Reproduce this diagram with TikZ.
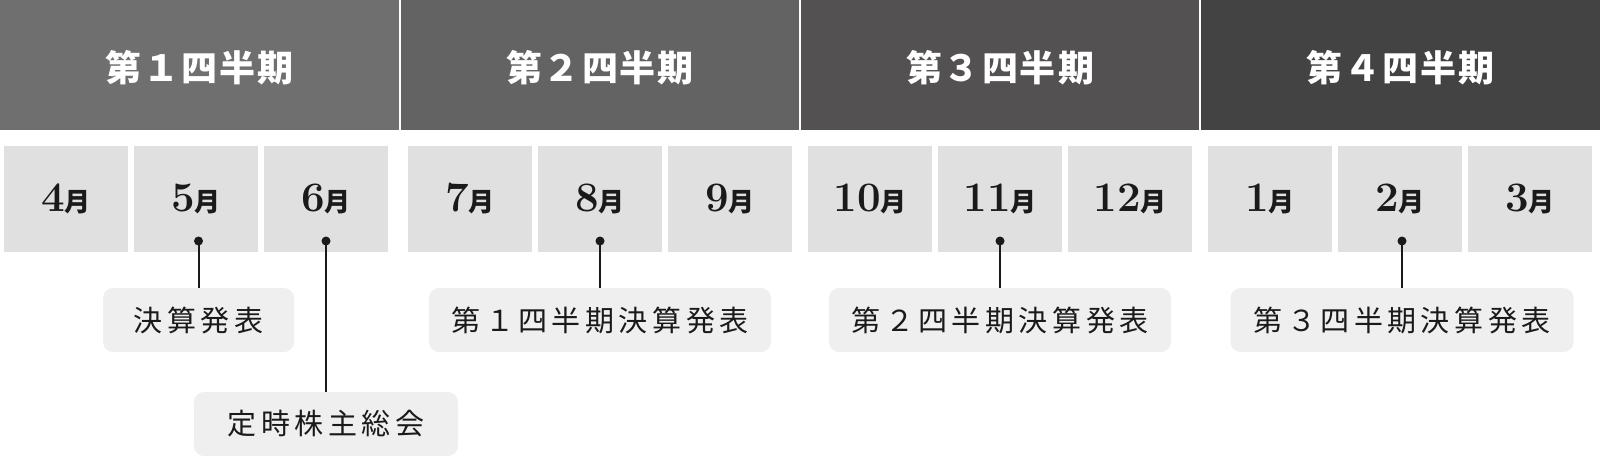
\documentclass[tikz,border=0pt]{standalone}
\usepackage{fontspec}
\newfontfamily\cjk{Noto Sans CJK JP}
\definecolor{qa}{HTML}{6F6F6F}
\definecolor{qb}{HTML}{636363}
\definecolor{qc}{HTML}{535151}
\definecolor{qd}{HTML}{434343}
\definecolor{mbox}{HTML}{E0E0E0}
\definecolor{lbox}{HTML}{EFEFEF}
\definecolor{ink}{HTML}{1A1A1A}
\newcommand\hdtxt[1]{{\cjk\bfseries\fontsize{36}{36}\selectfont #1}}
\newcommand\mon[1]{{\bfseries\fontsize{42}{42}\selectfont #1}{\cjk\bfseries\fontsize{26}{26}\selectfont 月}}
\newcommand\ls{\kern4.5pt}
\newcommand\hs{\kern2pt}
\tikzset{
  qhead/.style={rectangle, inner sep=0pt, minimum height=130pt},
  qtext/.style={text=white, inner sep=0pt, yshift=-3pt},
  mcell/.style={rectangle, fill=mbox, inner sep=0pt, minimum width=124pt, minimum height=106pt, text=ink},
  lcell/.style={rectangle, fill=lbox, rounded corners=10pt, inner sep=0pt, minimum height=64pt, text=ink, font=\cjk\fontsize{29}{29}\selectfont},
  evdot/.style={circle, fill=ink, inner sep=0pt, minimum size=9pt},
  evline/.style={draw=ink, line width=2pt},
}
\begin{document}
\begin{tikzpicture}[x=1pt,y=-1pt]
\useasboundingbox (0,0) rectangle (1600,456);
% quarter headers
\node[qhead, fill=qa, minimum width=399pt, label={[qtext]center:\hdtxt{第\hs １\hs 四\hs 半\hs 期}}] (q1) at (199.5,65) {};
\node[qhead, fill=qb, minimum width=398pt, label={[qtext]center:\hdtxt{第\hs ２\hs 四\hs 半\hs 期}}] (q2) at (600,65) {};
\node[qhead, fill=qc, minimum width=398pt, label={[qtext]center:\hdtxt{第\hs ３\hs 四\hs 半\hs 期}}] (q3) at (1000,65) {};
\node[qhead, fill=qd, minimum width=399pt, label={[qtext]center:\hdtxt{第\hs ４\hs 四\hs 半\hs 期}}] (q4) at (1400.5,65) {};
% months
\node[mcell] (m4) at (66,199) {\mon{4}};
\node[mcell] (m5) at (196,199) {\mon{5}};
\node[mcell] (m6) at (326,199) {\mon{6}};
\node[mcell] (m7) at (470,199) {\mon{7}};
\node[mcell] (m8) at (600,199) {\mon{8}};
\node[mcell] (m9) at (730,199) {\mon{9}};
\node[mcell] (m10) at (870,199) {\mon{10}};
\node[mcell] (m11) at (1000,199) {\mon{11}};
\node[mcell] (m12) at (1130,199) {\mon{12}};
\node[mcell] (m1) at (1270,199) {\mon{1}};
\node[mcell] (m2) at (1400,199) {\mon{2}};
\node[mcell] (m3) at (1530,199) {\mon{3}};
% event labels
\node[lcell, minimum width=191pt] (e1) at (198.5,320) {決\ls 算\ls 発\ls 表};
\node[lcell, minimum width=264pt] (e2) at (326,424) {定\ls 時\ls 株\ls 主\ls 総\ls 会};
\node[lcell, minimum width=342pt] (e3) at (600,320) {第\ls １\ls 四\ls 半\ls 期\ls 決\ls 算\ls 発\ls 表};
\node[lcell, minimum width=342pt] (e4) at (1000,320) {第\ls ２\ls 四\ls 半\ls 期\ls 決\ls 算\ls 発\ls 表};
\node[lcell, minimum width=343pt] (e5) at (1402,320) {第\ls ３\ls 四\ls 半\ls 期\ls 決\ls 算\ls 発\ls 表};
% dots
\node[evdot] (d5) at (198.5,241) {};
\node[evdot] (d6) at (326,241) {};
\node[evdot] (d8) at (600,241) {};
\node[evdot] (d11) at (1000,241) {};
\node[evdot] (d2) at (1402,241) {};
% connectors
\draw[evline] (d5.center) -- (d5.center |- e1.north);
\draw[evline] (d6.center) -- (d6.center |- e2.north);
\draw[evline] (d8.center) -- (d8.center |- e3.north);
\draw[evline] (d11.center) -- (d11.center |- e4.north);
\draw[evline] (d2.center) -- (d2.center |- e5.north);
\end{tikzpicture}
\end{document}
